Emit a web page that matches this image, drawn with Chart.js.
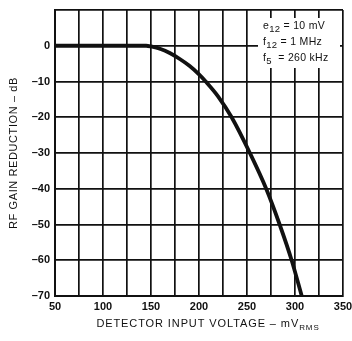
<!DOCTYPE html>
<html>
<head>
<meta charset="utf-8">
<script src="https://cdn.jsdelivr.net/npm/chart.js@4.4.1/dist/chart.umd.min.js"></script>
<style>
  html, body { margin: 0; padding: 0; background: #fff; }
  #chart { display: block; }
</style>
</head>
<body>
<canvas id="chart" width="352" height="341"></canvas>
<script>
// Data
const inputVoltage = [50, 100, 140, 145, 150, 160, 170, 180, 190, 200, 207, 220, 234, 253, 270, 284, 296.5, 307];
const gainReduction = [0, 0, 0, 0, -0.2, -0.9, -2.1, -3.7, -5.6, -8.0, -10, -14.2, -20, -30, -40, -50, -60, -70];

// Axis ticks
const xTickLabels = [50, 100, 150, 200, 250, 300, 350];
const yTickLabels = [0, -10, -20, -30, -40, -50, -60, -70];

// Annotation lines: [main, subscript, rest]
const noteLines = [
  ["e", "12", " = 10 mV"],
  ["f", "12", " = 1 MHz"],
  ["f", "5", "  = 260 kHz"],
];

const FONT = "'Liberation Sans', Arial, sans-serif";
const INK = "#111";

function dash(v) {
  return String(v).replace("-", "\u2013");
}

// Draws axis titles and the parameter box
const textPlugin = {
  id: "textPlugin",
  afterDraw(chart) {
    const ctx = chart.ctx;
    const area = chart.chartArea;
    ctx.save();
    ctx.fillStyle = INK;
    ctx.letterSpacing = "0.6px";

    // Y title
    ctx.save();
    ctx.translate(14, (area.top + area.bottom) / 2);
    ctx.rotate(-Math.PI / 2);
    ctx.font = "11px " + FONT;
    ctx.textAlign = "center";
    ctx.textBaseline = "middle";
    ctx.fillText("RF GAIN REDUCTION \u2013 dB", 0, 0);
    ctx.restore();

    // X title with subscript
    ctx.letterSpacing = "0.9px";
    ctx.font = "11px " + FONT;
    ctx.textBaseline = "alphabetic";
    ctx.textAlign = "left";
    const main = "DETECTOR INPUT VOLTAGE \u2013 mV";
    const mainW = ctx.measureText(main).width;
    ctx.font = "8px " + FONT;
    const subW = ctx.measureText("RMS").width;
    let x = 208 - (mainW + subW) / 2;
    ctx.font = "11px " + FONT;
    ctx.fillText(main, x, 327);
    ctx.font = "8px " + FONT;
    ctx.fillText("RMS", x + mainW, 330);

    // Parameter box
    ctx.letterSpacing = "0.3px";
    ctx.fillStyle = "#fff";
    ctx.fillRect(258, 18, 82, 50);
    ctx.fillStyle = INK;
    noteLines.forEach((line, i) => {
      const y = 29 + i * 16;
      let cx = 263;
      ctx.font = "10.5px " + FONT;
      ctx.fillText(line[0], cx, y);
      cx += ctx.measureText(line[0]).width;
      ctx.font = "9.5px " + FONT;
      ctx.fillText(line[1], cx, y + 3);
      cx += ctx.measureText(line[1]).width;
      ctx.font = "10.5px " + FONT;
      ctx.fillText(line[2], cx, y);
    });

    ctx.restore();
  },
};

const ctx = document.getElementById("chart").getContext("2d");

new Chart(ctx, {
  type: "line",
  data: {
    datasets: [
      {
        data: inputVoltage.map((v, i) => ({ x: v, y: gainReduction[i] })),
        borderColor: INK,
        borderWidth: 3.8,
        pointRadius: 0,
        cubicInterpolationMode: "monotone",
        fill: false,
      },
    ],
  },
  options: {
    responsive: false,
    animation: false,
    layout: { padding: { top: 10, right: 0, left: 0, bottom: 0 } },
    plugins: {
      legend: { display: false },
      tooltip: { enabled: false },
    },
    scales: {
      x: {
        type: "linear",
        min: 50,
        max: 350,
        afterFit: (scale) => {
          scale.height = 45;
          scale.paddingRight = 9;
          scale.paddingLeft = 0;
        },
        ticks: {
          stepSize: 25,
          padding: 4,
          color: INK,
          maxRotation: 0,
          font: { family: FONT, size: 11, weight: "bold" },
          callback: (v) => (xTickLabels.includes(v) ? v : ""),
        },
        grid: { color: INK, lineWidth: 1.7, drawTicks: false },
        border: { color: INK, width: 2 },
      },
      y: {
        min: -70,
        max: 10,
        afterFit: (scale) => {
          scale.width = 55;
          scale.paddingTop = 0;
        },
        ticks: {
          stepSize: 10,
          padding: 5,
          color: INK,
          font: { family: FONT, size: 11, weight: "bold" },
          callback: (v) => (yTickLabels.includes(v) ? dash(v) : ""),
        },
        grid: { color: INK, lineWidth: 1.7, drawTicks: false },
        border: { color: INK, width: 2 },
      },
    },
  },
  plugins: [textPlugin],
});
</script>
</body>
</html>
